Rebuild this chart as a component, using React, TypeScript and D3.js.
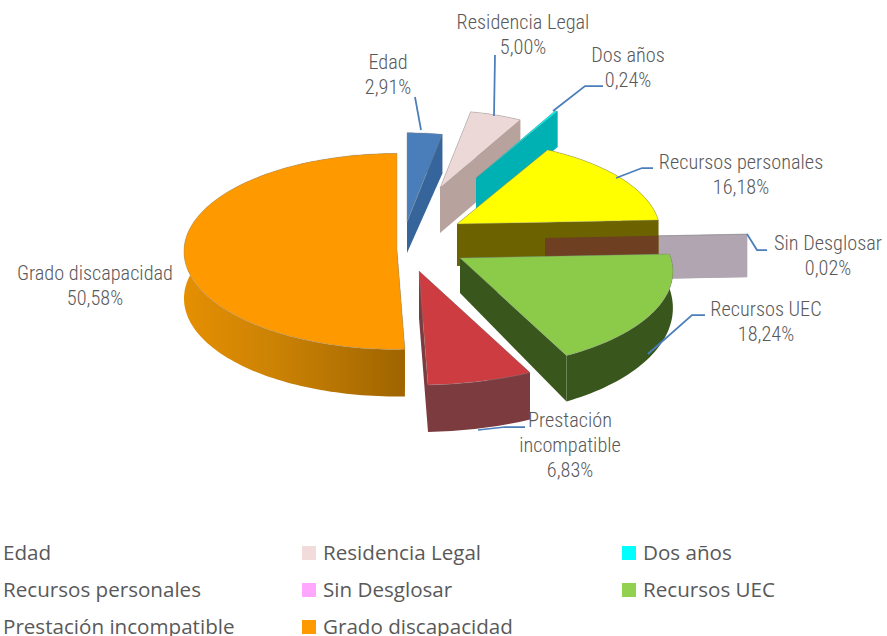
import React from 'react';
import * as d3 from 'd3';

// values
const categories = ['Edad', 'Residencia Legal', 'Dos años', 'Recursos personales', 'Sin Desglosar', 'Recursos UEC', 'Prestación incompatible', 'Grado discapacidad'];
const percents = [2.91, 5.0, 0.24, 16.18, 0.02, 18.24, 6.83, 50.58];
const valueLabels = ['2,91%', '5,00%', '0,24%', '16,18%', '0,02%', '18,24%', '6,83%', '50,58%'];

const topColors = ['#4a7ebb', '#ecd9d7', '#00f5f5', '#ffff00', '#b9aeb9', '#8ccb4a', '#cd3c40', '#ff9900'];
const sideColors = ['#35659a', '#b8a29e', '#00b1b3', '#6c6200', '#b0a5b0', '#39571d', '#7b3b3f', 'url(#gradoSide)'];
const legendColors = [null, '#f2dcdb', '#00ffff', null, '#ffa6ff', '#92d050', null, '#ff9900'];

// exploded 3D layout of every slice, relative to the pie centre
const explodeX = [-3, 30, 66, 47, 135, 50, 9, -13];
const explodeY = [-28, -62, -72, -26, -12, 8, 21, 0];
const radiusScale = [0.91, 0.79, 0.78, 0.95, 0.95, 0.99, 1.14, 1];
const perspective = [0, 0, 0, 0.1, 0, 0.14, 0.02, 0.015];
const depths = [31, 45, 36, 42, 43, 35, 47, 47];
const depthPerspective = [-0.28, 0, 0, 0, 0, 0.35, 0, 0];
const paintOrder = [0, 1, 2, 4, 3, 6, 7];

const labelX = [388, 523, 628, 741, 828, 766, 570, 95];
const labelY = [69, 29, 62, 169, 250, 316, 427, 280];
const labelLines = [['Edad'], ['Residencia Legal'], ['Dos años'], ['Recursos personales'], ['Sin Desglosar'], ['Recursos UEC'], ['Prestación', 'incompatible'], ['Grado discapacidad']];
const leaders = [
  [[415, 97], [421, 130]],
  [[495, 55], [494, 116]],
  [[603, 86], [585, 86], [553, 111]],
  [[653, 168], [642, 168], [616, 178]],
  [[767, 250], [757, 250], [747, 234]],
  [[705, 315], [692, 315], [648, 354]],
  [[525, 427], [505, 427], [478, 430]],
];

const legendRows = [553, 590, 627];
const legendCols = [3, 302, 622];

const centerX = 410;
const centerY = 250;
const radiusX = d3.scaleLinear().domain([0, 1]).range([0, 213]);
const radiusY = d3.scaleLinear().domain([0, 1]).range([0, 98]);

const arcs = d3.pie<number>().sort(null).startAngle(0).endAngle(2 * Math.PI)(percents);
const line = d3.line().curve(d3.curveLinear);

type Pt = { a: number; r: number };

// angle is clockwise from the back of the pie
function project(i: number, p: Pt, down: boolean): [number, number] {
  const back = p.r * Math.cos(p.a);
  const s = radiusScale[i] * (1 - perspective[i] * back);
  const x = centerX + explodeX[i] + radiusX(p.r * Math.sin(p.a)) * s;
  const y = centerY + explodeY[i] - radiusY(back) * s;
  return [x, down ? y + depths[i] * (1 - depthPerspective[i] * back) : y];
}

function wall(i: number, pts: Pt[]) {
  const top = pts.map((p) => project(i, p, false));
  const bottom = pts.map((p) => project(i, p, true)).reverse();
  return line([...top, ...bottom]) + 'Z';
}

function outerPts(start: number, end: number): Pt[] {
  const steps = Math.max(2, Math.ceil((end - start) * 40));
  return d3.range(steps + 1).map((k) => ({ a: start + ((end - start) * k) / steps, r: 1 }));
}

const pieceOf = (i: number) => {
  const { startAngle, endAngle } = arcs[i];
  const rim = outerPts(startAngle, endAngle);
  return {
    top: line([project(i, { a: startAngle, r: 0 }, false), ...rim.map((p) => project(i, p, false))]) + 'Z',
    rim: wall(i, rim),
    startWall: wall(i, [{ a: startAngle, r: 0 }, { a: startAngle, r: 1 }]),
    endWall: wall(i, [{ a: endAngle, r: 0 }, { a: endAngle, r: 1 }]),
  };
};

const personales = pieceOf(3);
const sinDesglosar = pieceOf(4);

const labelFont = "Roboto, 'Open Sans', sans-serif";
const legendFont = "'Open Sans', 'Noto Sans', sans-serif";

function Slice({ i }: { i: number }) {
  const piece = pieceOf(i);
  return (
    <g>
      <path d={piece.startWall} fill={sideColors[i]} />
      <path d={piece.rim} fill={sideColors[i]} />
      <path d={piece.endWall} fill={sideColors[i]} />
      <path d={piece.top} fill={topColors[i]} stroke="#8a8a8a" strokeOpacity={0.55} strokeWidth={0.7} />
    </g>
  );
}

export default function App() {
  return (
    <svg width={887} height={636} style={{ position: 'absolute', left: 0, top: 0, background: '#fff' }}>
      <defs>
        <linearGradient id="gradoSide" gradientUnits="userSpaceOnUse" x1={185} x2={402} y1={0} y2={0}>
          <stop offset="0" stopColor="#e58f02" />
          <stop offset="0.45" stopColor="#c98104" />
          <stop offset="1" stopColor="#a06500" />
        </linearGradient>
        <clipPath id="personalesSide">
          <path d={personales.startWall} />
          <path d={personales.endWall} />
        </clipPath>
      </defs>

      {paintOrder.map((i) => <Slice key={categories[i]} i={i} />)}
      {/* Sin Desglosar shows through the yellow wall */}
      <path d={sinDesglosar.endWall} fill="#6e3f20" clipPath="url(#personalesSide)" />
      {/* the green slice sits in front of that overlap */}
      <Slice i={5} />

      {leaders.map((pts, i) => (
        <path key={i} d={line(pts as [number, number][]) as string} fill="none" stroke="#4a7ebb" strokeWidth={1.75} />
      ))}

      {labelLines.map((lines, i) => (
        <text key={i} x={labelX[i]} y={labelY[i]} textAnchor="middle" fontFamily={labelFont} fontWeight={300} fontSize={20.3} fill="#595959" style={{ fontStretch: 'condensed' }}>
          {[...lines, valueLabels[i]].map((t, k) => (
            <tspan key={k} x={labelX[i]} dy={k === 0 ? 0 : 25}>{t}</tspan>
          ))}
        </text>
      ))}

      {categories.map((c, i) => {
        const row = legendRows[Math.floor(i / 3)];
        const col = legendCols[i % 3];
        const color = legendColors[i];
        return (
          <g key={c}>
            {color && <rect x={col} y={row - 7} width={14} height={14} fill={color} />}
            <text x={color ? col + 21 : col} y={row + 7} fontFamily={legendFont} fontSize={20.6} fill="#595959">{c}</text>
          </g>
        );
      })}
    </svg>
  );
}
